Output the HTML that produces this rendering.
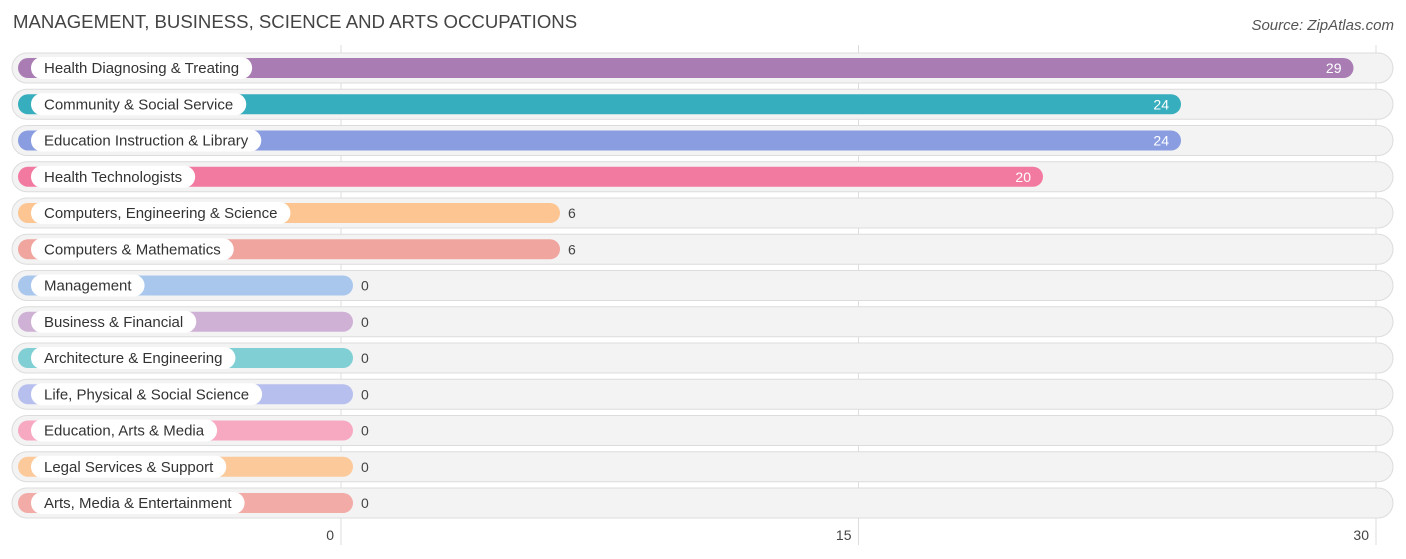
<!DOCTYPE html>
<html><head><meta charset="utf-8">
<style>
body{margin:0;background:#fff;font-family:"Liberation Sans",sans-serif;}
svg{display:block}
</style></head>
<body>
<svg id="chart" width="1406" height="559" xmlns="http://www.w3.org/2000/svg">
<text x="13" y="28" font-size="18.6" fill="#444">MANAGEMENT, BUSINESS, SCIENCE AND ARTS OCCUPATIONS</text>
<text x="1394" y="30" font-size="15" fill="#555" text-anchor="end" font-style="italic">Source: ZipAtlas.com</text>
<g id="grid"></g><g id="rows"></g><g id="ticks"></g>
</svg>
<script>
const categories=["Health Diagnosing & Treating","Community & Social Service","Education Instruction & Library","Health Technologists","Computers, Engineering & Science","Computers & Mathematics","Management","Business & Financial","Architecture & Engineering","Life, Physical & Social Science","Education, Arts & Media","Legal Services & Support","Arts, Media & Entertainment"];
const values=[29,24,24,20,6,6,0,0,0,0,0,0,0];
const colors=["#a97db3","#37aebd","#8a9de0","#f27aa0","#fcc591","#f0a59e","#a9c7ec","#cfb1d6","#7fcfd5","#b7bfee","#f7a9c2","#fcc99a","#f2aba6"];
const tickValues=[0,15,30];
const NS="http://www.w3.org/2000/svg";
const x=v=>341+v*(1376-341)/30;
const y=i=>68+i*36.25;
function mk(tag,attrs,parent){const e=document.createElementNS(NS,tag);for(const k in attrs)e.setAttribute(k,attrs[k]);parent.appendChild(e);return e;}
const grid=document.getElementById('grid'),rows=document.getElementById('rows'),ticks=document.getElementById('ticks');
tickValues.forEach(t=>{
  const l=mk('line',{x1:x(t),x2:x(t),y1:45,y2:545,stroke:'#ddd','stroke-width':1},grid);
  
  
  const tx=mk('text',{x:x(t)-7,y:540,'font-size':14,fill:'#444','text-anchor':'end'},ticks);
  tx.textContent=t;
  
  
});
categories.forEach((c,i)=>{
  const cy=y(i);
  const g=mk('g',{},rows);
  
  
  const bg=mk('rect',{x:12,y:cy-15,width:1381,height:30,rx:15,fill:'#f3f3f3',stroke:'#dcdcdc','stroke-width':1},g);
  
  
  const end=x(values[i])+12;
  const bar=mk('rect',{x:18,y:cy-10,width:end-18,height:20,rx:10,fill:colors[i]},g);
  
  
  const pill=mk('rect',{x:31,y:cy-11,width:100,height:22,rx:11,fill:'#fff'},g);
  
  
  const lt=mk('text',{x:44,y:cy+5,'font-size':15,fill:'#333'},g);
  lt.textContent=c;
  
  
  let tw=c.length*7.6;
  try{tw=lt.getComputedTextLength();}catch(e){}
  pill.setAttribute('width',tw+26);
  const inside=values[i]>=10;
  const vt=mk('text',{x:inside?end-12:end+8,y:cy+5,'font-size':14,fill:inside?'#fff':'#444','text-anchor':inside?'end':'start'},g);
  vt.textContent=values[i];
  
  
});
</script>
</body></html>
